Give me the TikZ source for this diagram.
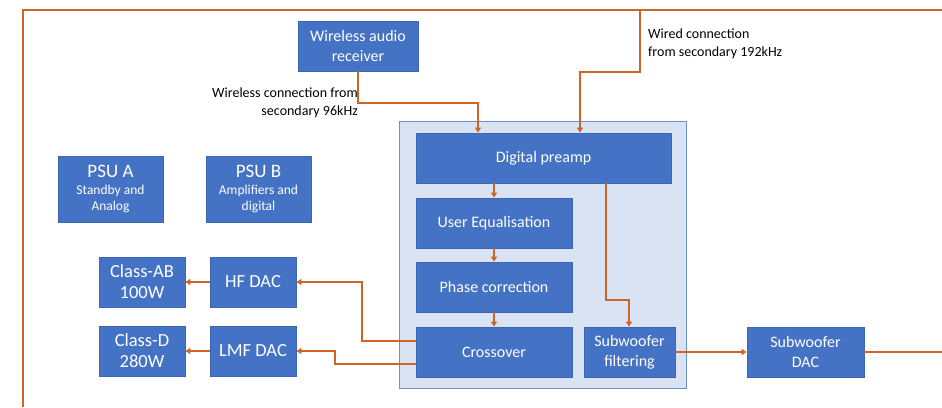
\documentclass[tikz,border=0pt]{standalone}
\usepackage{fontspec}
\setmainfont{Carlito}
\usetikzlibrary{arrows.meta,calc}
\definecolor{boxfill}{HTML}{4472C4}
\definecolor{boxline}{HTML}{3A66B4}
\definecolor{contfill}{HTML}{DAE3F3}
\definecolor{contline}{HTML}{6E8FCB}
\definecolor{wire}{HTML}{D06424}
\tikzset{
  blk/.style={draw=boxline,fill=boxfill,line width=0.8pt,text=white,align=center,inner sep=0pt,font=\fontsize{16}{20}\selectfont},
  bigblk/.style={blk,font=\fontsize{18.5}{21}\selectfont},
  psublk/.style={blk,font=\fontsize{13.5}{16}\selectfont},
  arr/.style={draw=wire,line width=1.5pt,-{Triangle[width=6pt,length=5pt]}},
  wireln/.style={draw=wire,line width=1.5pt},
  lbl/.style={font=\fontsize{14}{17.5}\selectfont,align=left,inner sep=0pt}
}
\begin{document}
\begin{tikzpicture}[x=1pt,y=-1pt]
\useasboundingbox (0,0) rectangle (942,407);
% container
\draw[draw=contline,fill=contfill,line width=1pt] (399,121) rectangle (686,388);
% nodes
\node[blk,minimum width=120pt,minimum height=50pt] (rx) at (358,46) {Wireless audio\\receiver};
\node[blk,minimum width=255pt,minimum height=50pt] (pre) at (543.5,158) {Digital preamp};
\node[blk,minimum width=156pt,minimum height=50pt] (eq) at (494,223) {User Equalisation};
\node[blk,minimum width=156pt,minimum height=50pt] (ph) at (494,287) {Phase correction};
\node[blk,minimum width=156pt,minimum height=50pt] (xo) at (494,352) {Crossover};
\node[blk,minimum width=91pt,minimum height=50pt] (sf) at (629.5,352) {Subwoofer\\filtering};
\node[blk,minimum width=117pt,minimum height=50pt] (sd) at (805.5,352) {Subwoofer\\DAC};
\node[psublk,minimum width=105pt,minimum height=66pt] (pa) at (110.5,189) {{\fontsize{19}{20}\selectfont PSU A}\\[1pt]Standby and\\Analog};
\node[psublk,minimum width=105pt,minimum height=66pt] (pb) at (258.5,189) {{\fontsize{19}{20}\selectfont PSU B}\\[1pt]Amplifiers and\\digital};
\node[bigblk,minimum width=86pt,minimum height=50pt] (ab) at (142,282) {Class-AB\\100W};
\node[bigblk,minimum width=86pt,minimum height=50pt] (hf) at (253,282) {HF DAC};
\node[bigblk,minimum width=86pt,minimum height=50pt] (cd) at (142,351) {Class-D\\280W};
\node[bigblk,minimum width=86pt,minimum height=50pt] (lm) at (253,351) {LMF DAC};
% labels
\node[lbl,align=right,anchor=north east] (l1) at (358,88) {Wireless connection from\\secondary 96kHz};
\node[lbl,anchor=north west] (l2) at (648,29) {Wired connection\\from secondary 192kHz};
% outer frame
\coordinate (fb) at (23,407);
\coordinate (ftl) at (23,10);
\coordinate (ftr) at (942,10);
\coordinate (w1) at (640,10);
\coordinate (w2) at (580,72);
\coordinate (r1) at (358,103);
\coordinate (r2) at (478,103);
\coordinate (s1) at (606,300);
\coordinate (s2) at (629,300);
\coordinate (h1) at (362,341);
\coordinate (m1) at (335,364);
\coordinate (eR) at (942,352);
\draw[wireln] (fb) -- (ftl) -- (ftr);
% connectors
\draw[arr] (w1) |- (w2) -- (pre.north -| w2);
\draw[arr] (rx.south) -- (r1) -- (r2) -- (pre.north -| r2);
\draw[arr] (pre.south -| eq.north) -- (eq.north);
\draw[arr] (eq.south) -- (ph.north);
\draw[arr] (ph.south) -- (xo.north);
\draw[arr] (pre.south -| s1) -- (s1) -- (s2) -- (sf.north -| s2);
\draw[arr] (sf.east) -- (sd.west);
\draw[wireln] (sd.east) -- (eR);
\draw[arr] (xo.west |- h1) -- (h1) |- (hf.east);
\draw[arr] (xo.west |- m1) -- (m1) |- (lm.east);
\draw[arr] (hf.west) -- (ab.east);
\draw[arr] (lm.west) -- (cd.east);
\end{tikzpicture}
\end{document}
